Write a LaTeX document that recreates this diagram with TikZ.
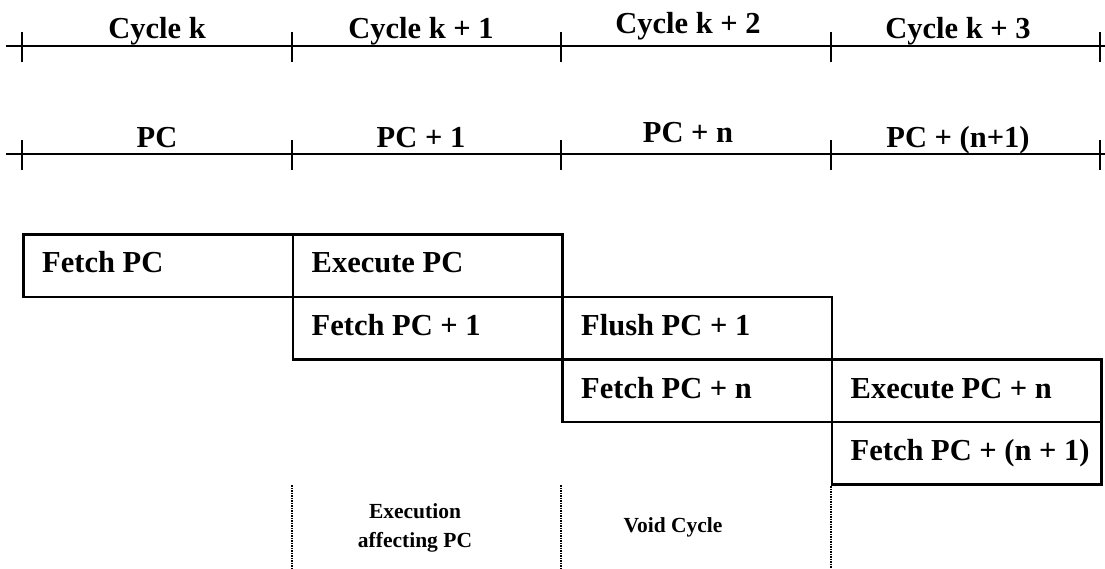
\documentclass[tikz,border=0pt]{standalone}
\usepackage{fontspec}
\setmainfont{Liberation Serif}
\usetikzlibrary{calc}
\tikzset{
  big/.style={font=\fontsize{30.5}{36}\selectfont\bfseries, inner sep=0pt},
  small/.style={font=\fontsize{21.5}{29}\selectfont\bfseries, inner sep=0pt, align=center},
  stagebox/.style={draw, line width=2.8pt, minimum width=269.5pt, minimum height=62.5pt, inner sep=0pt, anchor=north west},
  axis/.style={line width=2pt},
  tick/.style={line width=2pt},
  dotline/.style={line width=2pt, dash pattern=on 1.5pt off 1pt},
}
\begin{document}
\begin{tikzpicture}[x=1pt,y=-1pt]
\useasboundingbox (0,0) rectangle (1105,568);
% time lines
\coordinate (l1s) at (6,46);   \coordinate (l1e) at (1105,46);
\coordinate (l2s) at (6,154);  \coordinate (l2e) at (1105,154);
\draw[axis] (l1s) -- (l1e);
\draw[axis] (l2s) -- (l2e);
\foreach \i/\x in {0/22,1/291.5,2/561,3/830.5,4/1100}{
  \coordinate (ta\i) at (\x,32);  \coordinate (tb\i) at (\x,62);
  \coordinate (tc\i) at (\x,140); \coordinate (td\i) at (\x,170);
  \draw[tick] (ta\i) -- (tb\i);
  \draw[tick] (tc\i) -- (td\i);
}
% cycle labels
\node[big, anchor=base] (c0) at (157,38) {Cycle k};
\node[big, anchor=base] (c1) at (421,38) {Cycle k + 1};
\node[big, anchor=base] (c2) at (688,33) {Cycle k + 2};
\node[big, anchor=base] (c3) at (958,38) {Cycle k + 3};
% pc labels
\node[big, anchor=base] (p0) at (157,147) {PC};
\node[big, anchor=base] (p1) at (421,147) {PC + 1};
\node[big, anchor=base] (p2) at (688,142) {PC + n};
\node[big, anchor=base] (p3) at (958,147) {PC + (n+1)};
% stage boxes
\node[stagebox] (b1) at (22,233) {};
\node[stagebox] (b2) at (291.5,233) {};
\node[stagebox] (b3) at (291.5,295.5) {};
\node[stagebox] (b4) at (561,295.5) {};
\node[stagebox] (b5) at (561,358) {};
\node[stagebox] (b6) at (830.5,358) {};
\node[stagebox] (b7) at (830.5,420.5) {};
\node[big, anchor=base west] (s1) at ($(b1.north west)+(20,39)$) {Fetch PC};
\node[big, anchor=base west] (s2) at ($(b2.north west)+(20,39)$) {Execute PC};
\node[big, anchor=base west] (s3) at ($(b3.north west)+(20,39.5)$) {Fetch PC + 1};
\node[big, anchor=base west] (s4) at ($(b4.north west)+(20,39.5)$) {Flush PC + 1};
\node[big, anchor=base west] (s5) at ($(b5.north west)+(20,40)$) {Fetch PC + n};
\node[big, anchor=base west] (s6) at ($(b6.north west)+(20,40)$) {Execute PC + n};
\node[big, anchor=base west] (s7) at ($(b7.north west)+(20,40)$) {Fetch PC + (n + 1)};
% dotted separators
\foreach \i/\x/\y in {1/291.5/485,2/561/485,3/830.5/486}{
  \coordinate (da\i) at (\x,\y); \coordinate (db\i) at (\x,568);
  \draw[dotline] (da\i) -- (db\i);
}
\node[small] (n1) at (415,527.5) {Execution\\affecting PC};
\node[small, anchor=base] (n2) at (673,532) {Void Cycle};
\end{tikzpicture}
\end{document}
